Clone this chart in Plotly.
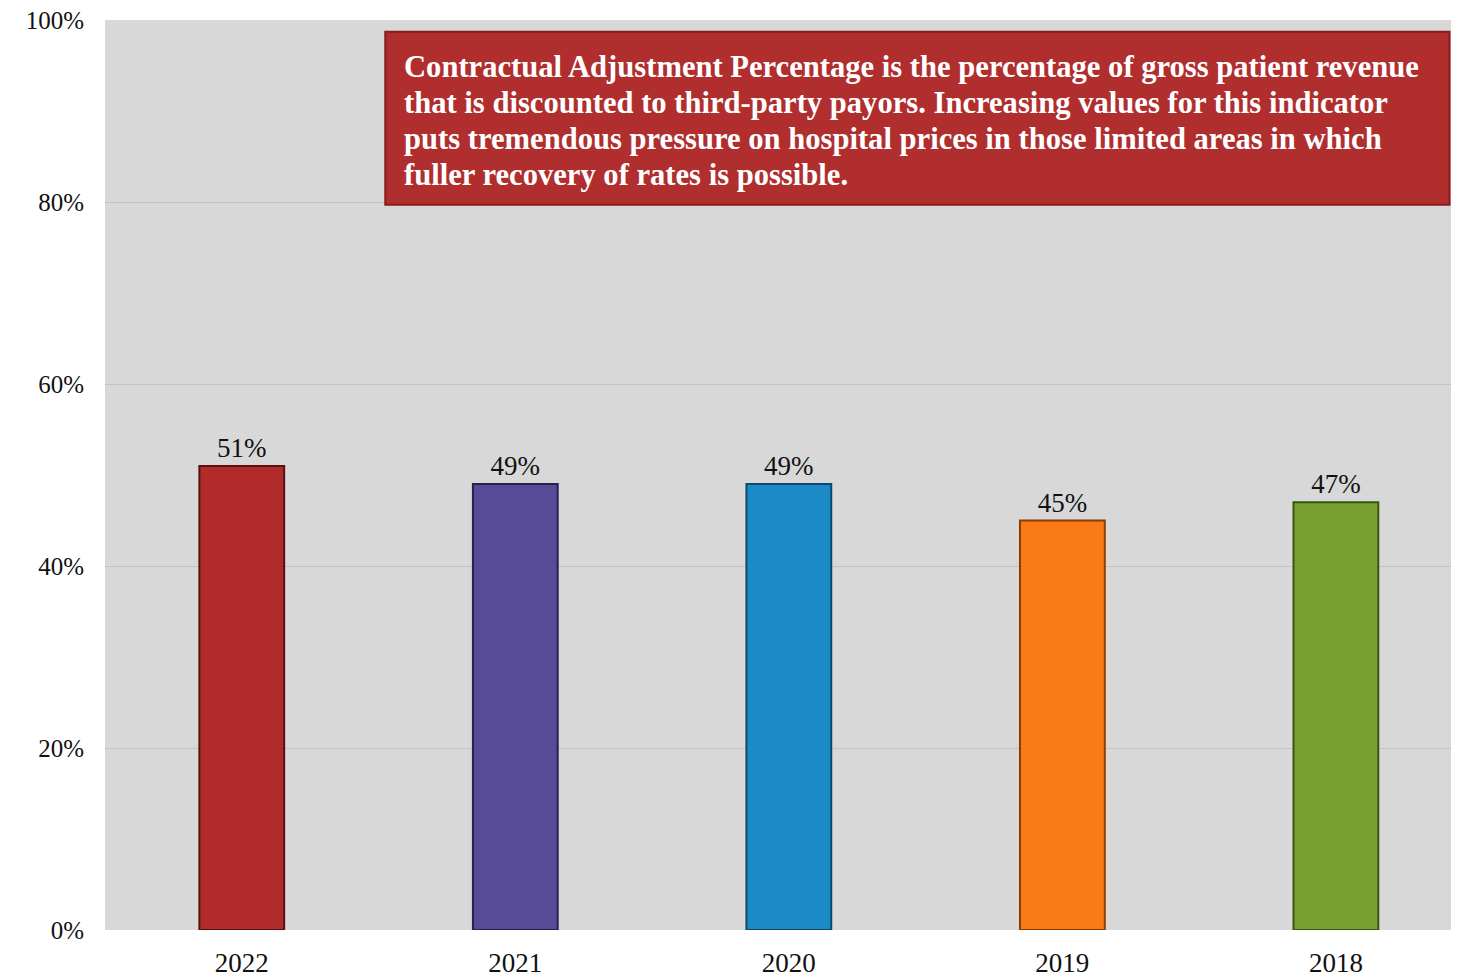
import plotly.graph_objects as go

years = ["2022", "2021", "2020", "2019", "2018"]
values = [51, 49, 49, 45, 47]
labels = ["51%", "49%", "49%", "45%", "47%"]
colors = ["#b22b2b", "#574a96", "#1b8ac6", "#fb7a18", "#77a030"]
edge_colors = ["#5a1010", "#2a2050", "#0b4a70", "#8a3e00", "#3a5512"]
y_ticks = [0, 20, 40, 60, 80, 100]
y_tick_text = ["0%", "20%", "40%", "60%", "80%", "100%"]
note_lines = [
    "Contractual Adjustment Percentage is the percentage of gross patient revenue",
    "that is discounted to third-party payors. Increasing values for this indicator",
    "puts tremendous pressure on hospital prices in those limited areas in which",
    "fuller recovery of rates is possible.",
]

fig = go.Figure()
fig.add_trace(go.Bar(
    x=years, y=values, text=labels, textposition="outside",
    textfont=dict(family="Liberation Serif", size=27, color="#111111"),
    marker=dict(color=colors, line=dict(color=edge_colors, width=2)),
    width=0.31, cliponaxis=False,
))

fig.add_shape(type="rect", xref="paper", yref="paper",
              x0=0.207, x1=0.993, y0=0.797, y1=0.987,
              fillcolor="#b02e2e", line=dict(color="#8a1c1c", width=2), layer="above")
for i, line in enumerate(note_lines):
    fig.add_annotation(xref="paper", yref="paper", x=0.2195, y=0.948 - i * 0.0394,
                       xanchor="left", yanchor="middle", align="left", showarrow=False,
                       text=line,
                       font=dict(family="Liberation Serif", size=30.6, color="white", weight="bold"))

fig.update_layout(
    width=1451, height=970,
    margin=dict(l=97, r=0, t=12, b=48),
    paper_bgcolor="white", plot_bgcolor="#d8d8d8",
    showlegend=False,
    xaxis=dict(range=[-0.5, 4.45], showgrid=False, zeroline=False,
               tickfont=dict(family="Liberation Serif", size=27, color="#111111"),
               ticks="", ticklabelstandoff=14),
    yaxis=dict(range=[0, 100], tickvals=y_ticks, ticktext=y_tick_text,
               showgrid=True, gridcolor="#c2c2c2", gridwidth=1, zeroline=False,
               tickfont=dict(family="Liberation Serif", size=25, color="#111111"),
               ticks="", ticklabelstandoff=20, ticklabeloverflow="allow"),
)

fig.write_html("out.html")
